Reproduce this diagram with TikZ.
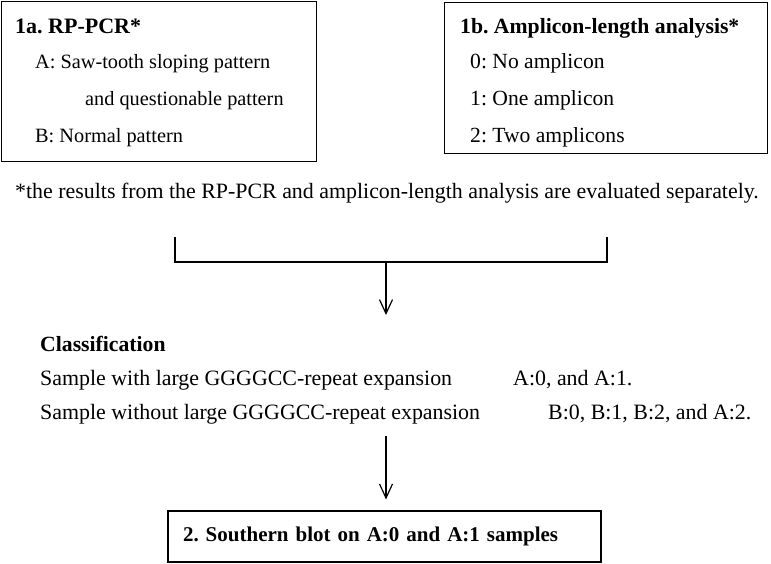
\documentclass[tikz,border=0pt]{standalone}
\usepackage{fontspec}
\setmainfont{Liberation Serif}
\usetikzlibrary{arrows.meta}
\frenchspacing
\begin{document}
\begin{tikzpicture}[x=1pt,y=-1pt,
  box/.style={draw, line width=1.2pt, inner sep=0pt},
  txt/.style={anchor=west, inner sep=0pt, font=\fontsize{21}{25}\selectfont, text height=14.7pt, text depth=4.2pt},
  txta/.style={txt, font=\fontsize{20.3}{25}\selectfont},
  txtb/.style={txt, font=\fontsize{21.6}{25}\selectfont},
  txtc/.style={txt, font=\fontsize{21.9}{25}\selectfont},
  btxt/.style={txt, font=\fontsize{21.7}{25}\selectfont\bfseries},
  line/.style={line width=1.2pt},
  arr/.style={line width=1.2pt, -{Straight Barb[length=14pt,width=13pt,line width=1.2pt]}}
]
\useasboundingbox (0,0) rectangle (771,563);
% box 1a
\node[box, minimum width=315pt, minimum height=160pt, anchor=north west] (b1a) at (1,1) {};
\node[btxt, font=\fontsize{22}{25}\selectfont\bfseries] (t1a) at (15,28) {1a. RP-PCR*};
\node[txta] (a1) at (35,63) {A: Saw-tooth sloping pattern};
\node[txta] (a2) at (85,100) {and questionable pattern};
\node[txta] (b1) at (35,137) {B: Normal pattern};
% box 1b
\node[box, minimum width=323pt, minimum height=151pt, anchor=north west] (b1b) at (444,2) {};
\node[btxt] (t1b) at (460,28) {1b. Amplicon-length analysis*};
\node[txtb] (n0) at (470,63) {0: No amplicon};
\node[txtb] (n1) at (470,100) {1: One amplicon};
\node[txtb] (n2) at (470,137) {2: Two amplicons};
% footnote
\node[txtc] (fn) at (15,193) {*the results from the RP-PCR and amplicon-length analysis are evaluated separately.};
% bracket
\coordinate (bl) at (175,237);
\coordinate (br) at (607,237);
\coordinate (bj) at (386,262);
\coordinate (c1) at (386,315);
\draw[line] (bl) |- (bj) -| (br);
\draw[arr] (bj) -- (c1);
% classification
\node[btxt] (cls) at (40,346) {Classification};
\node[txtc] (s1) at (40,380) {Sample with large GGGGCC-repeat expansion};
\node[txtc] (r1) at (513,380) {A:0, and A:1.};
\node[txtc] (s2) at (40,414) {Sample without large GGGGCC-repeat expansion};
\node[txtc] (r2) at (548,414) {B:0, B:1, B:2, and A:2.};
% box 2
\coordinate (c2) at (386,436);
\node[box, minimum width=433pt, minimum height=51pt, text width=403pt, align=left, inner xsep=15pt, font=\fontsize{21}{26}\selectfont\bfseries] (b2) at (384.5,536.5) {2. Southern blot on A:0 and A:1 samples};
\draw[arr, shorten >=11pt] (c2) -- (c2 |- b2.north);
\end{tikzpicture}
\end{document}
